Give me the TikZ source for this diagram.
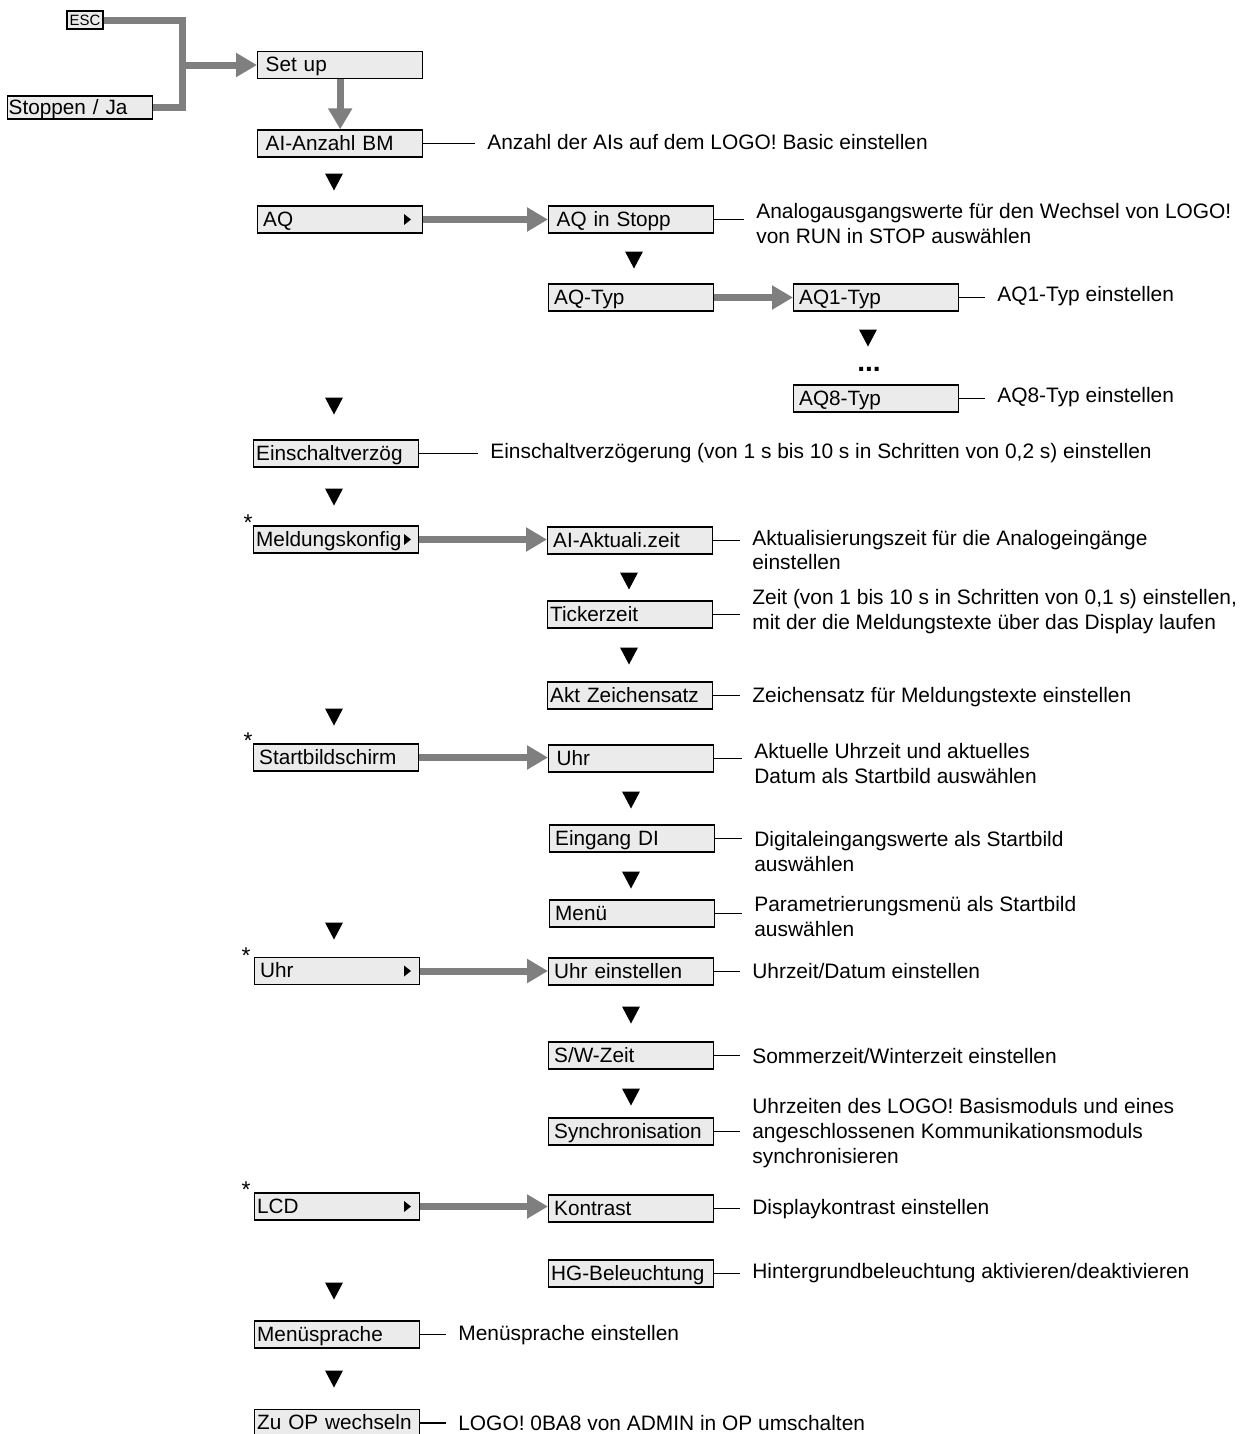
\documentclass[tikz,border=0pt]{standalone}
\usepackage{fontspec}
\setmainfont{Liberation Sans}
\usetikzlibrary{positioning, arrows.meta, shapes.geometric}
\definecolor{boxfill}{HTML}{EBEBEB}
\definecolor{navgray}{HTML}{7F7F7F}
\tikzset{
  menubox/.style={draw, fill=boxfill, line width=0.8pt, anchor=west, minimum height=0.54cm,
    inner xsep=0.11cm, inner ysep=0pt, text width=3.08cm, text height=0.78em, text depth=0.04em,
    align=left, font=\fontsize{11.8}{14}\selectfont},
  tightbox/.style={menubox, inner xsep=0.05cm, text width=3.2cm},
  widebox/.style={menubox, inner xsep=0.16cm, text width=2.98cm},
  escbox/.style={draw, fill=boxfill, line width=0.8pt, minimum width=0.72cm, minimum height=0.36cm,
    inner sep=0.02cm, font=\fontsize{8.5}{9}\selectfont},
  desc/.style={anchor=west, align=left, inner xsep=0.24cm, inner ysep=0pt, font=\fontsize{11.9}{14.2}\selectfont},
  infoline/.style={line width=0.8pt},
  navline/.style={draw=navgray, line width=0.14cm},
  navarrow/.style={draw=navgray, line width=0.14cm, -{Triangle[length=0.42cm, width=0.46cm]}},
  starmark/.style={inner sep=0pt, font=\fontsize{13}{14}\selectfont},
  downmark/.pic={\fill (-9,-8.5) -- (9,-8.5) -- (0,8.5) -- cycle;},
  submark/.pic={\fill (-3,-5.5) -- (-3,5.5) -- (4,0) -- cycle;},
}

\begin{document}
\begin{tikzpicture}[x=0.02cm, y=-0.02cm]
    \useasboundingbox (0,0) rectangle (1241,1434);

    % Entry
    \node[escbox] (esc) at (85,20) {ESC};
    \node[menubox, text width=2.86cm, inner xsep=0.02cm, minimum height=0.46cm] (stop) at (7,107.5) {Stoppen / Ja};
    \node[widebox] (setup) at (257,65) {Set up};
    \coordinate (split) at (182,65);
    \draw[navline] (esc.east) -| (split) |- (stop.east);
    \draw[navarrow] (split) -- (setup.west);

    % Main column
    \node[widebox] (aianz) at (257,143.5) {AI-Anzahl BM};
    \node[menubox] (aq) at (257,219.5) {AQ};
    \node[tightbox] (einsch) at (253,453.5) {Einschaltverzög};
    \node[tightbox] (meld) at (253,539.5) {Meldungskonfig};
    \node[menubox] (start) at (253,757.5) {Startbildschirm};
    \node[menubox] (uhr) at (254,971) {Uhr};
    \node[tightbox] (lcd) at (254,1206.5) {LCD};
    \node[tightbox] (menspr) at (254,1334.5) {Menüsprache};
    \node[tightbox] (zuop) at (254,1423) {Zu OP wechseln};
    \draw[navarrow] (setup.south) -- (aianz.north);

    \node[starmark] (s1) at (248,523) {*};
    \node[starmark] (s2) at (248,741) {*};
    \node[starmark] (s3) at (246,956) {*};
    \node[starmark] (s4) at (246,1190) {*};

    \foreach \y in {219.5, 539.5, 971, 1206.5}
        \pic at (407,\y) {submark};
    \foreach \y in {182, 406, 497, 717, 931, 1291, 1379}
        \pic at (334,\y) {downmark};

    % Sub menus
    \node[widebox] (aqstop) at (548,219.5) {AQ in Stopp};
    \node[menubox] (aqtyp) at (548,297.5) {AQ-Typ};
    \node[menubox] (aq1) at (793,297.5) {AQ1-Typ};
    \node[menubox] (aq8) at (793,398.5) {AQ8-Typ};
    \node[inner sep=0pt, font=\bfseries\fontsize{16}{18}\selectfont] (dots) at (869,369) {...};
    \node[menubox] (aiakt) at (547,540.5) {AI-Aktuali.zeit};
    \node[tightbox] (ticker) at (547,614.5) {Tickerzeit};
    \node[tightbox] (akt) at (547,695.5) {Akt Zeichensatz};
    \node[widebox] (uhrs) at (548,758.5) {Uhr};
    \node[menubox] (eing) at (549,838.5) {Eingang DI};
    \node[menubox] (menu) at (549,913.5) {Menü};
    \node[menubox] (uhreinst) at (548,971.5) {Uhr einstellen};
    \node[menubox] (sw) at (548,1055.5) {S/W-Zeit};
    \node[menubox] (sync) at (548,1131.5) {Synchronisation};
    \node[menubox] (kontr) at (548,1208.5) {Kontrast};
    \node[tightbox] (hg) at (548,1273.5) {HG-Beleuchtung};

    \draw[navarrow] (aq.east) -- (aq.east -| aqstop.west);
    \draw[navarrow] (aqtyp.east) -- (aqtyp.east -| aq1.west);
    \draw[navarrow] (meld.east) -- (meld.east -| aiakt.west);
    \draw[navarrow] (start.east) -- (start.east -| uhrs.west);
    \draw[navarrow] (uhr.east) -- (uhr.east -| uhreinst.west);
    \draw[navarrow] (lcd.east) -- (lcd.east -| kontr.west);

    \pic at (634,260) {downmark};
    \pic at (868,338) {downmark};
    \foreach \y in {581, 656}
        \pic at (629,\y) {downmark};
    \foreach \y in {800, 880, 1015, 1097}
        \pic at (631,\y) {downmark};

    % Descriptions
    \node[desc] (aianzd) at (475,142) {Anzahl der AIs auf dem LOGO! Basic einstellen};
    \node[desc] (aqstopd) at (744,223.5) {Analogausgangswerte für den Wechsel von LOGO!\\von RUN in STOP auswählen};
    \node[desc] (aq1d) at (985,296) {AQ1-Typ einstellen};
    \node[desc] (aq8d) at (985,397) {AQ8-Typ einstellen};
    \node[desc] (einschd) at (478,453) {Einschaltverzögerung (von 1 s bis 10 s in Schritten von 0,2 s) einstellen};
    \node[desc] (aiaktd) at (740,550) {Aktualisierungszeit für die Analogeingänge\\einstellen};
    \node[desc] (tickerd) at (740,611.5) {Zeit (von 1 bis 10 s in Schritten von 0,1 s) einstellen,\\mit der die Meldungstexte über das Display laufen};
    \node[desc] (aktd) at (740,697) {Zeichensatz für Meldungstexte einstellen};
    \node[desc] (uhrsd) at (742,763.5) {Aktuelle Uhrzeit und aktuelles\\Datum als Startbild auswählen};
    \node[desc] (eingd) at (742,851.5) {Digitaleingangswerte als Startbild\\auswählen};
    \node[desc] (menud) at (742,916.5) {Parametrierungsmenü als Startbild\\auswählen};
    \node[desc] (uhreinstd) at (740,971) {Uhrzeit/Datum einstellen};
    \node[desc] (swd) at (740,1056) {Sommerzeit/Winterzeit einstellen};
    \node[desc] (syncd) at (740,1133) {Uhrzeiten des LOGO! Basismoduls und eines\\angeschlossenen Kommunikationsmoduls\\synchronisieren};
    \node[desc] (kontrd) at (740,1209) {Displaykontrast einstellen};
    \node[desc] (hgd) at (740,1273) {Hintergrundbeleuchtung aktivieren/deaktivieren};
    \node[desc] (mensprd) at (446,1335) {Menüsprache einstellen};
    \node[desc] (zuopd) at (446,1423) {LOGO! 0BA8 von ADMIN in OP umschalten};

    \foreach \b in {aianz, aqstop, aq1, aq8, einsch, aiakt, ticker, akt, uhrs, eing, menu, uhreinst, sw, sync, kontr, hg, menspr, zuop}
        \draw[infoline] (\b.east) -- (\b.east -| \b d.west);
\end{tikzpicture}
\end{document}
